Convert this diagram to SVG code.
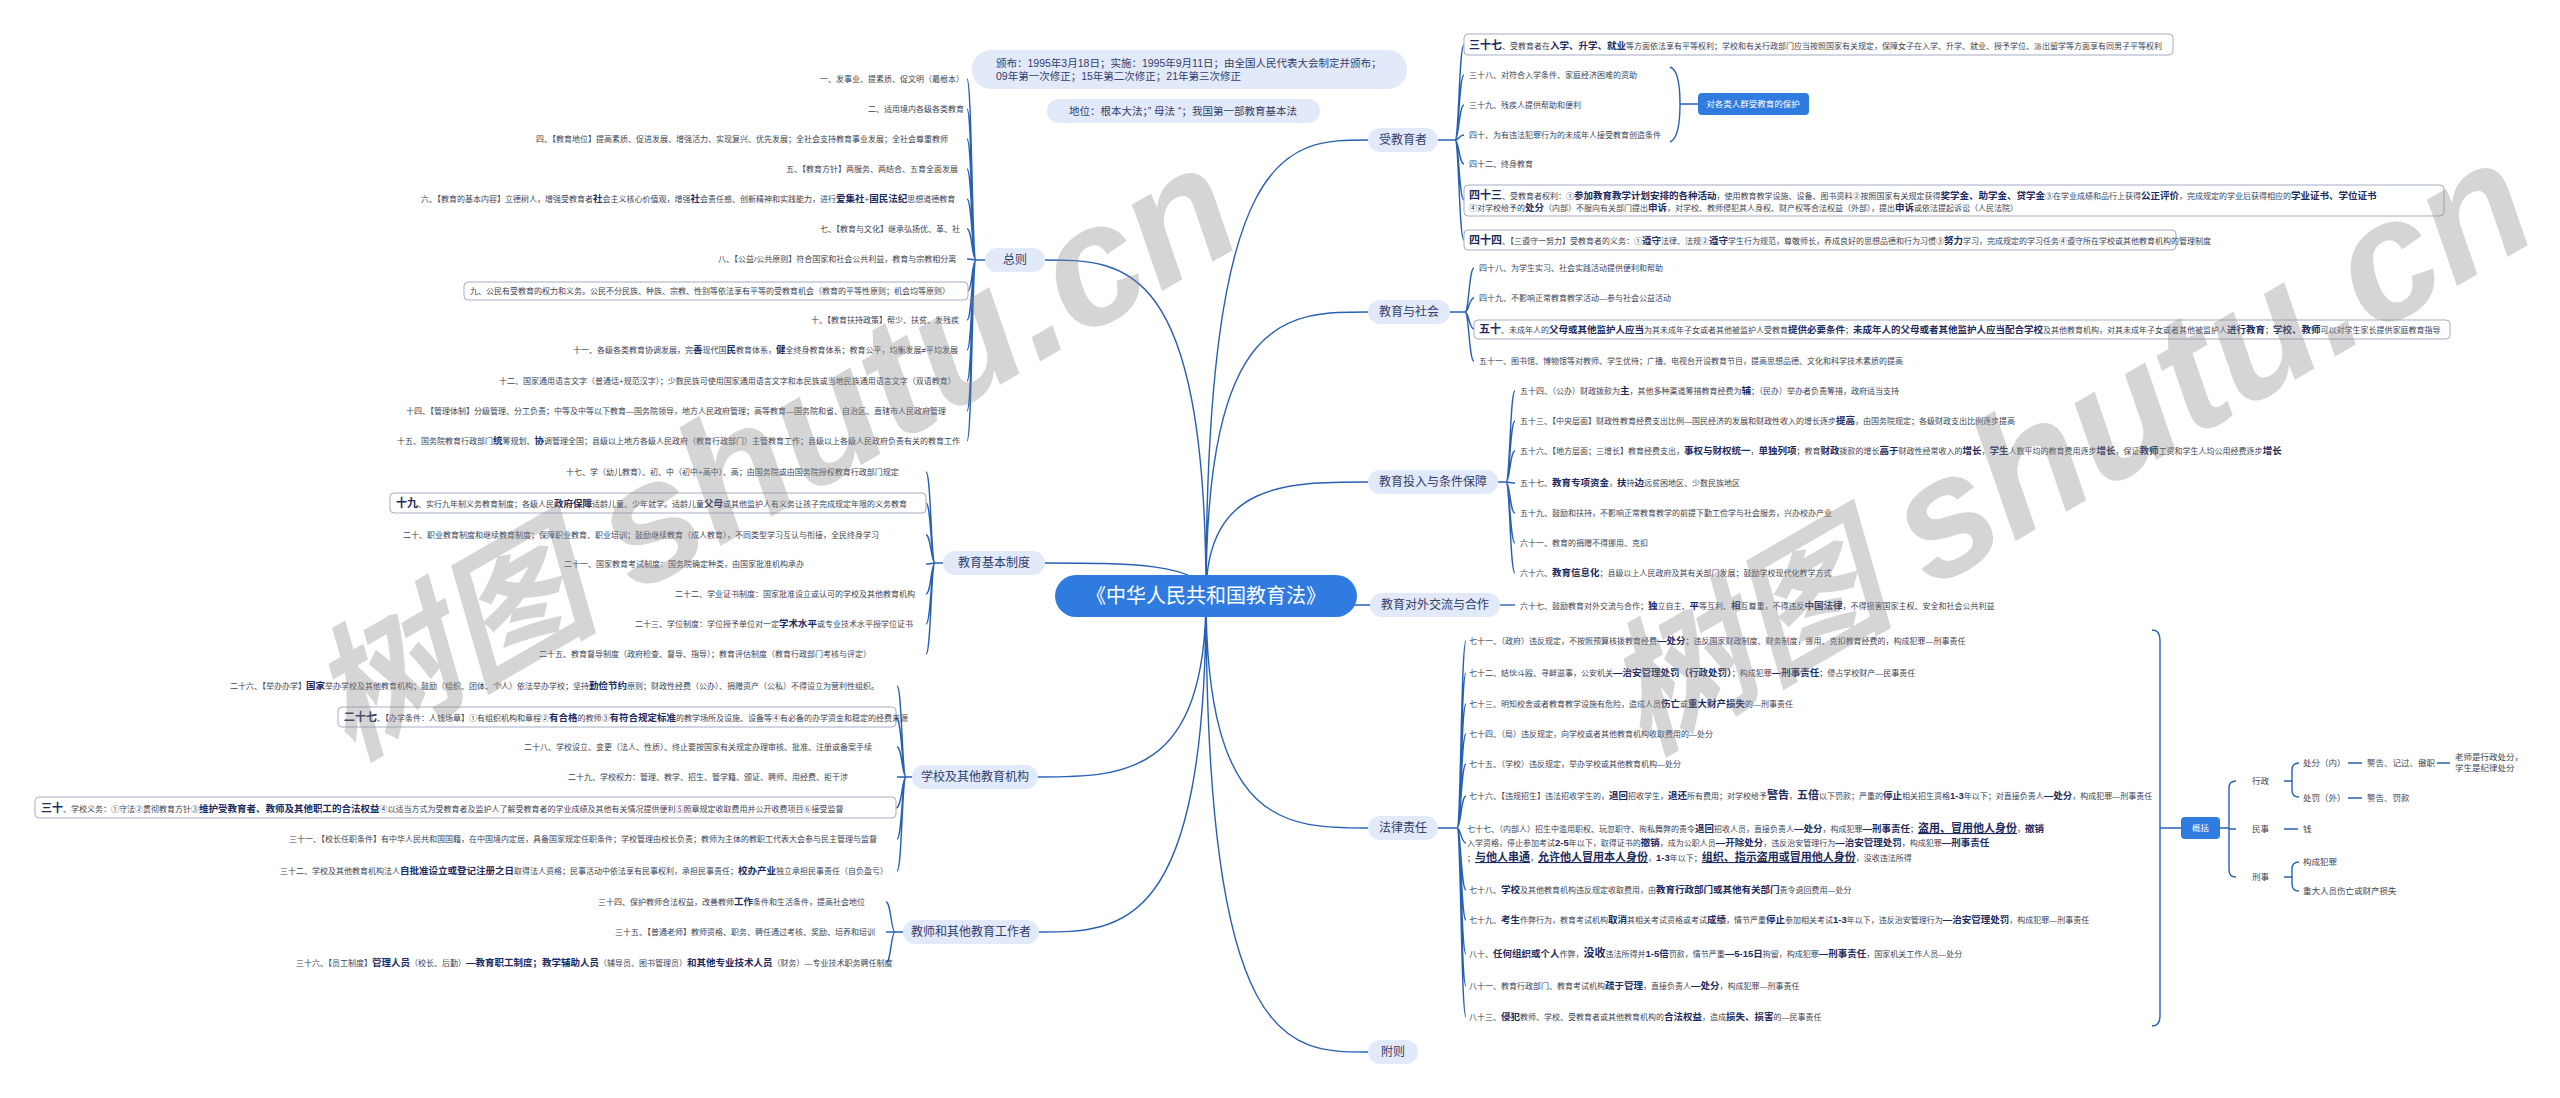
<svg xmlns="http://www.w3.org/2000/svg" width="2560" height="1098" viewBox="0 0 2560 1098">
<style>
text{font-family:"Liberation Sans","Noto Sans CJK SC",sans-serif;}
.t{font-size:8px;fill:#3d4354;}
.b{font-weight:700;font-size:9.5px;fill:#1e2b5e;}
.h{font-weight:700;font-size:11px;fill:#1e2b5e;}
.u{font-weight:700;font-size:11px;fill:#1e2b5e;text-decoration:underline;}
.s{font-size:8.5px;fill:#3d4354;}
.ln{fill:none;stroke:#2860b2;stroke-width:1.4;}
.pill{fill:#e2e9f8;}
.pt{font-size:12px;fill:#34406b;text-anchor:middle;}
.box{fill:#fff;stroke:#a3adc3;stroke-width:1;}
.blue{fill:#2f7be0;}
.wt{font-size:8.5px;fill:#fff;text-anchor:middle;}
.wm{font-size:145px;font-weight:700;font-style:italic;fill:#8c8c8c;opacity:0.36;}
.wl{font-size:170px;}
</style>
<rect width="2560" height="1098" fill="#fff"/>

<g id="connectors">
<path class="ln" d="M1206,596C1206,260 1125,260 1045,260 M1206,596C1206,563 1125,563 1045,563 M1206,596C1206,777 1122,777 1038,777 M1206,596C1206,932 1122,932 1039,932 M1206,596C1206,140 1287,140 1368,140 M1206,596C1206,312 1287,312 1368,312 M1206,596C1206,482 1287,482 1368,482 M1206,596C1206,605 1288,605 1370,605 M1206,596C1206,828 1287,828 1368,828 M1206,596C1206,1052 1287,1052 1368,1052"/>
<path class="ln" d="M985,260H976 M976,260C972,260 972,79 967,79 M976,260C972,260 972,109 967,109 M976,260C972,260 972,139 967,139 M976,260C972,260 972,169 967,169 M976,260C972,260 972,199 967,199 M976,260C972,260 972,229 967,229 M976,260C972,260 972,259 967,259 M976,260C972,260 972,291 968,291 M976,260C972,260 972,320 967,320 M976,260C972,260 972,350 967,350 M976,260C972,260 972,381 967,381 M976,260C972,260 972,411 967,411 M976,260C972,260 972,441 967,441"/>
<path class="ln" d="M943,563H935 M935,563C931,563 931,472 926,472 M935,563C931,563 931,503 926,503 M935,563C931,563 931,535 926,535 M935,563C931,563 931,564 926,564 M935,563C931,563 931,594 926,594 M935,563C931,563 931,624 926,624 M935,563C931,563 931,654 926,654"/>
<path class="ln" d="M912,777H906 M906,777C902,777 902,686 897,686 M906,777C902,777 902,717 896,717 M906,777C902,777 902,747 897,747 M906,777C902,777 902,777 897,777 M906,777C902,777 902,808 896,808 M906,777C902,777 902,839 897,839 M906,777C902,777 902,871 897,871"/>
<path class="ln" d="M903,932H895 M895,932C891,932 891,902 886,902 M895,932C891,932 891,932 886,932 M895,932C891,932 891,963 886,963"/>
<path class="ln" d="M1438,140H1455 M1455,140C1459,140 1459,45 1464,45 M1455,140C1459,140 1459,75 1464,75 M1455,140C1459,140 1459,105 1464,105 M1455,140C1459,140 1459,135 1464,135 M1455,140C1459,140 1459,164 1464,164 M1455,140C1459,140 1459,200 1464,200 M1455,140C1459,140 1459,240 1464,240"/>
<path class="ln" d="M1670,67Q1680,70 1680,104Q1680,138 1670,142 M1680,104H1698"/>
<path class="ln" d="M1450,312H1465 M1465,312C1469,312 1469,268 1474,268 M1465,312C1469,312 1469,298 1474,298 M1465,312C1469,312 1469,329 1474,329 M1465,312C1469,312 1469,361 1474,361"/>
<path class="ln" d="M1498,482H1506 M1506,482C1510,482 1510,391 1515,391 M1506,482C1510,482 1510,421 1515,421 M1506,482C1510,482 1510,451 1515,451 M1506,482C1510,482 1510,483 1515,483 M1506,482C1510,482 1510,513 1515,513 M1506,482C1510,482 1510,543 1515,543 M1506,482C1510,482 1510,573 1515,573"/>
<path class="ln" d="M1500,605H1515"/>
<path class="ln" d="M1438,828H1457 M1457,828C1461,828 1461,641 1466,641 M1457,828C1461,828 1461,673 1466,673 M1457,828C1461,828 1461,704 1466,704 M1457,828C1461,828 1461,734 1466,734 M1457,828C1461,828 1461,764 1466,764 M1457,828C1461,828 1461,796 1466,796 M1457,828C1461,828 1461,843 1466,843 M1457,828C1461,828 1461,890 1466,890 M1457,828C1461,828 1461,920 1466,920 M1457,828C1461,828 1461,954 1466,954 M1457,828C1461,828 1461,986 1466,986 M1457,828C1461,828 1461,1017 1466,1017"/>
<path class="ln" d="M2152,630Q2160,630 2160,640V1016Q2160,1026 2152,1026 M2160,828H2181"/>
<path class="ln" d="M2220,828H2229 M2236,781Q2229,781 2229,788V870Q2229,877 2236,877 M2229,829H2236 M2284,781H2292 M2299,763Q2292,763 2292,770V790Q2292,797 2299,797 M2348,763H2362 M2437,763H2450 M2348,798H2362 M2284,829H2298 M2284,877H2292 M2299,862Q2292,862 2292,869V884Q2292,891 2299,891"/>
</g>

<g id="root">
<rect x="1055" y="575" width="302" height="42" rx="21" class="blue"/>
<text x="1206" y="603" font-size="20" fill="#fff" text-anchor="middle">《中华人民共和国教育法》</text>
</g>

<g id="info1"><rect x="972" y="50" width="435" height="39" rx="19" class="pill"/>
<text x="996" y="67" font-size="10.5" fill="#34406b">颁布：1995年3月18日；实施：1995年9月11日；由全国人民代表大会制定并颁布；</text>
<text x="996" y="80" font-size="10.5" fill="#34406b">09年第一次修正；15年第二次修正；21年第三次修正</text></g>
<g id="info2"><rect x="1047" y="99" width="273" height="24" rx="12" class="pill"/>
<text x="1183" y="115" font-size="10.5" fill="#34406b" text-anchor="middle">地位：根本大法；” 母法 “；我国第一部教育基本法</text></g>

<g id="b-zongze"><rect x="985" y="248" width="60" height="24" rx="12" class="pill"/><text x="1015" y="264" class="pt">总则</text></g>
<g id="b-jiben"><rect x="943" y="551" width="102" height="24" rx="12" class="pill"/><text x="994" y="567" class="pt">教育基本制度</text></g>
<g id="b-xuexiao"><rect x="912" y="765" width="126" height="24" rx="12" class="pill"/><text x="975" y="781" class="pt">学校及其他教育机构</text></g>
<g id="b-jiaoshi"><rect x="903" y="920" width="136" height="24" rx="12" class="pill"/><text x="971" y="936" class="pt">教师和其他教育工作者</text></g>
<g id="b-shou"><rect x="1368" y="128" width="70" height="24" rx="12" class="pill"/><text x="1403" y="144" class="pt">受教育者</text></g>
<g id="b-shehui"><rect x="1368" y="300" width="82" height="24" rx="12" class="pill"/><text x="1409" y="316" class="pt">教育与社会</text></g>
<g id="b-touru"><rect x="1368" y="470" width="130" height="24" rx="12" class="pill"/><text x="1433" y="486" class="pt">教育投入与条件保障</text></g>
<g id="b-duiwai"><rect x="1370" y="593" width="130" height="24" rx="12" class="pill"/><text x="1435" y="609" class="pt">教育对外交流与合作</text></g>
<g id="b-falv"><rect x="1368" y="816" width="70" height="24" rx="12" class="pill"/><text x="1403" y="832" class="pt">法律责任</text></g>
<g id="b-fuze"><rect x="1368" y="1040" width="50" height="24" rx="12" class="pill"/><text x="1393" y="1056" class="pt">附则</text></g>

<g id="zongze-items" class="t">
<text x="820" y="82" class="t">一、发事业、提素质、促文明（最根本）</text>
<text x="868" y="112" class="t">二、适用境内各级各类教育</text>
<text x="536" y="142" class="t">四、【教育地位】提高素质、促进发展、增强活力、实现复兴、优先发展；全社会支持教育事业发展；全社会尊重教师</text>
<text x="786" y="172" class="t">五、【教育方针】两服务、两结合、五育全面发展</text>
<text x="421" y="202" class="t">六、【教育的基本内容】立德树人，增强受教育者<tspan class="b">社</tspan>会主义核心价值观，增强<tspan class="b">社</tspan>会责任感、创新精神和实践能力，进行<tspan class="b">爱集社</tspan>+<tspan class="b">国民法纪</tspan>思想道德教育</text>
<text x="820" y="232" class="t">七、【教育与文化】继承弘扬优、革、社</text>
<text x="718" y="262" class="t">八、【公益/公共原则】符合国家和社会公共利益，教育与宗教相分离</text>
<rect x="464" y="282" width="504" height="18" rx="4" class="box"/>
<text x="470" y="294" class="t">九、公民有受教育的权力和义务。公民不分民族、种族、宗教、性别等依法享有平等的受教育机会（教育的平等性原则；机会均等原则）</text>
<text x="811" y="323" class="t">十、【教育扶持政策】帮少、扶贫、发残疾</text>
<text x="573" y="353" class="t">十一、各级各类教育协调发展，完<tspan class="b">善</tspan>现代国<tspan class="b">民</tspan>教育体系，<tspan class="b">健</tspan>全终身教育体系；教育公平，均衡发展≠平均发展</text>
<text x="499" y="384" class="t">十二、国家通用语言文字（普通话+规范汉字）；少数民族可使用国家通用语言文字和本民族或当地民族通用语言文字（双语教育）</text>
<text x="406" y="414" class="t">十四、【管理体制】分级管理、分工负责；中等及中等以下教育—国务院领导，地方人民政府管理；高等教育—国务院和省、自治区、直辖市人民政府管理</text>
<text x="397" y="444" class="t">十五、国务院教育行政部门<tspan class="b">统</tspan>筹规划、<tspan class="b">协</tspan>调管理全国；县级以上地方各级人民政府（教育行政部门）主管教育工作；县级以上各级人民政府负责有关的教育工作</text>
</g>

<g id="jiben-items">
<text x="566" y="475" class="t">十七、学（幼儿教育）、初、中（初中+高中）、高；由国务院或由国务院授权教育行政部门规定</text>
<rect x="390" y="493" width="536" height="20" rx="4" class="box"/>
<text x="396" y="507" class="t"><tspan class="h">十九</tspan>、实行九年制义务教育制度；各级人民<tspan class="b">政府保障</tspan>适龄儿童、少年就学。适龄儿童<tspan class="b">父母</tspan>或其他监护人有义务让孩子完成规定年限的义务教育</text>
<text x="403" y="538" class="t">二十、职业教育制度和继续教育制度；保障职业教育、职业培训；鼓励继续教育（成人教育），不同类型学习互认与衔接，全民终身学习</text>
<text x="564" y="567" class="t">二十一、国家教育考试制度：国务院确定种类，由国家批准机构承办</text>
<text x="675" y="597" class="t">二十二、学业证书制度：国家批准设立或认可的学校及其他教育机构</text>
<text x="635" y="627" class="t">二十三、学位制度：学位授予单位对一定<tspan class="b">学术水平</tspan>或专业技术水平授学位证书</text>
<text x="539" y="657" class="t">二十五、教育督导制度（政府检查、督导、指导）；教育评估制度（教育行政部门考核与评定）</text>
</g>

<g id="xuexiao-items">
<text x="230" y="689" class="t">二十六、【举办办学】<tspan class="b">国家</tspan>举办学校及其他教育机构；鼓励（组织、团体、个人）依法举办学校；坚持<tspan class="b">勤俭节约</tspan>原则；财政性经费（公办）、捐赠资产（公私）不得设立为营利性组织。</text>
<rect x="338" y="707" width="558" height="20" rx="4" class="box"/>
<text x="344" y="721" class="t"><tspan class="h">二十七</tspan>、【办学条件：人钱场章】①有组织机构和章程②<tspan class="b">有合格</tspan>的教师③<tspan class="b">有符合规定标准</tspan>的教学场所及设施、设备等④有必备的办学资金和稳定的经费来源</text>
<text x="524" y="750" class="t">二十八、学校设立、变更（法人、性质）、终止要按国家有关规定办理审核、批准、注册或备案手续</text>
<text x="568" y="780" class="t">二十九、学校权力：管理、教学、招生、管学籍、颁证、聘师、用经费、拒干涉</text>
<rect x="35" y="797" width="861" height="21" rx="4" class="box"/>
<text x="41" y="812" class="t"><tspan class="h">三十</tspan>、学校义务：①守法②贯彻教育方针③<tspan class="b">维护受教育者、教师及其他职工的合法权益</tspan>④以适当方式为受教育者及监护人了解受教育者的学业成绩及其他有关情况提供便利⑤照章规定收取费用并公开收费项目⑥接受监督</text>
<text x="289" y="842" class="t">三十一、【校长任职条件】有中华人民共和国国籍，在中国境内定居，具备国家规定任职条件；学校管理由校长负责；教师为主体的教职工代表大会参与民主管理与监督</text>
<text x="280" y="874" class="t">三十二、学校及其他教育机构法人<tspan class="b">自批准设立或登记注册之日</tspan>取得法人资格；民事活动中依法享有民事权利，承担民事责任；<tspan class="b">校办产业</tspan>独立承担民事责任（自负盈亏）</text>
</g>

<g id="jiaoshi-items">
<text x="598" y="905" class="t">三十四、保护教师合法权益，改善教师<tspan class="b">工作</tspan>条件和生活条件，提高社会地位</text>
<text x="615" y="935" class="t">三十五、【普通老师】教师资格、职务、聘任通过考核、奖励、培养和培训</text>
<text x="296" y="966" class="t">三十六、【员工制度】<tspan class="b">管理人员</tspan>（校长、后勤）<tspan class="b">—教育职工制度；教学辅助人员</tspan>（辅导员、图书管理员）<tspan class="b">和其他专业技术人员</tspan>（财务）—专业技术职务聘任制度</text>
</g>

<g id="shou-items">
<rect x="1464" y="34" width="709" height="21" rx="4" class="box"/>
<text x="1469" y="49" class="t"><tspan class="h">三十七</tspan>、受教育者在<tspan class="b">入学、升学、就业</tspan>等方面依法享有平等权利；学校和有关行政部门应当按照国家有关规定，保障女子在入学、升学、就业、授予学位、派出留学等方面享有同男子平等权利</text>
<text x="1469" y="78" class="t">三十八、对符合入学条件、家庭经济困难的资助</text>
<text x="1469" y="108" class="t">三十九、残疾人提供帮助和便利</text>
<text x="1469" y="138" class="t">四十、为有违法犯罪行为的未成年人接受教育创造条件</text>
<text x="1469" y="167" class="t">四十二、终身教育</text>
<rect x="1464" y="185" width="980" height="31" rx="4" class="box"/>
<text x="1469" y="199" class="t"><tspan class="h">四十三</tspan>、受教育者权利：①<tspan class="b">参加教育教学计划安排的各种活动</tspan>，使用教育教学设施、设备、图书资料②按照国家有关规定获得<tspan class="b">奖学金、助学金、贷学金</tspan>③在学业成绩和品行上获得<tspan class="b">公正评价</tspan>，完成规定的学业后获得相应的<tspan class="b">学业证书、学位证书</tspan></text>
<text x="1469" y="211" class="t">④对学校给予的<tspan class="b">处分</tspan>（内部）不服向有关部门提出<tspan class="b">申诉</tspan>，对学校、教师侵犯其人身权、财产权等合法权益（外部），提出<tspan class="b">申诉</tspan>或依法提起诉讼（人民法院）</text>
<rect x="1464" y="230" width="712" height="20" rx="4" class="box"/>
<text x="1469" y="244" class="t"><tspan class="h">四十四</tspan>、【三遵守一努力】受教育者的义务：①<tspan class="b">遵守</tspan>法律、法规②<tspan class="b">遵守</tspan>学生行为规范，尊敬师长，养成良好的思想品德和行为习惯③<tspan class="b">努力</tspan>学习，完成规定的学习任务④遵守所在学校或其他教育机构的管理制度</text>
</g>
<g id="protect"><rect x="1698" y="93" width="111" height="22" rx="4" class="blue"/><text x="1753" y="107" class="wt">对各类人群受教育的保护</text></g>

<g id="shehui-items">
<text x="1479" y="271" class="t">四十八、为学生实习、社会实践活动提供便利和帮助</text>
<text x="1479" y="301" class="t">四十九、不影响正常教育教学活动—参与社会公益活动</text>
<rect x="1474" y="320" width="976" height="19" rx="4" class="box"/>
<text x="1479" y="333" class="t"><tspan class="h">五十</tspan>、未成年人的<tspan class="b">父母或其他监护人应当</tspan>为其未成年子女或者其他被监护人受教育<tspan class="b">提供必要条件</tspan>；<tspan class="b">未成年人的父母或者其他监护人应当配合学校</tspan>及其他教育机构，对其未成年子女或者其他被监护人<tspan class="b">进行教育</tspan>；<tspan class="b">学校、教师</tspan>可以对学生家长提供家庭教育指导</text>
<text x="1479" y="364" class="t">五十一、图书馆、博物馆等对教师、学生优待；广播、电视台开设教育节目，提高思想品德、文化和科学技术素质的提高</text>
</g>

<g id="touru-items">
<text x="1520" y="394" class="t">五十四、（公办）财政拨款为<tspan class="b">主</tspan>，其他多种渠道筹措教育经费为<tspan class="b">辅</tspan>；（民办）举办者负责筹措，政府适当支持</text>
<text x="1520" y="424" class="t">五十三、【中央层面】财政性教育经费支出比例—国民经济的发展和财政性收入的增长逐步<tspan class="b">提高</tspan>，由国务院规定；各级财政支出比例逐步提高</text>
<text x="1520" y="454" class="t">五十六、【地方层面；三增长】教育经费支出，<tspan class="b">事权与财权统一</tspan>，<tspan class="b">单独列项</tspan>；教育<tspan class="b">财政</tspan>拨款的增长<tspan class="b">高于</tspan>财政性经常收入的<tspan class="b">增长</tspan>，<tspan class="b">学生</tspan>人数平均的教育费用逐步<tspan class="b">增长</tspan>，保证<tspan class="b">教师</tspan>工资和学生人均公用经费逐步<tspan class="b">增长</tspan></text>
<text x="1520" y="486" class="t">五十七、<tspan class="b">教育专项资金</tspan>，<tspan class="b">扶</tspan>持<tspan class="b">边</tspan>远贫困地区、少数民族地区</text>
<text x="1520" y="516" class="t">五十九、鼓励和扶持，不影响正常教育教学的前提下勤工俭学与社会服务，兴办校办产业</text>
<text x="1520" y="546" class="t">六十一、教育的捐赠不得挪用、克扣</text>
<text x="1520" y="576" class="t">六十六、<tspan class="b">教育信息化</tspan>；县级以上人民政府及其有关部门发展；鼓励学校现代化教学方式</text>
</g>

<g id="duiwai-items">
<text x="1520" y="609" class="t">六十七、鼓励教育对外交流与合作；<tspan class="b">独</tspan>立自主、<tspan class="b">平</tspan>等互利、<tspan class="b">相</tspan>互尊重，不得违反<tspan class="b">中国法律</tspan>，不得损害国家主权、安全和社会公共利益</text>
</g>

<g id="falv-items">
<text x="1469" y="644" class="t">七十一、（政府）违反规定，不按照预算核拨教育经费<tspan class="b">—处分</tspan>；违反国家财政制度、财务制度，挪用、克扣教育经费的，构成犯罪—刑事责任</text>
<text x="1469" y="676" class="t">七十二、结伙斗殴、寻衅滋事，公安机关<tspan class="b">—治安管理处罚（行政处罚）</tspan>；构成犯罪<tspan class="b">—刑事责任</tspan>；侵占学校财产—民事责任</text>
<text x="1469" y="707" class="t">七十三、明知校舍或者教育教学设施有危险，造成人员<tspan class="b">伤亡</tspan>或<tspan class="b">重大财产损失</tspan>的—刑事责任</text>
<text x="1469" y="737" class="t">七十四、（局）违反规定，向学校或者其他教育机构收取费用的—处分</text>
<text x="1469" y="767" class="t">七十五、（学校）违反规定，举办学校或其他教育机构—处分</text>
<text x="1469" y="799" class="t">七十六、【违规招生】违法招收学生的，<tspan class="b">退回</tspan>招收学生，<tspan class="b">退还</tspan>所有费用；对学校给予<tspan class="h">警告</tspan>，<tspan class="h">五倍</tspan>以下罚款；严重的<tspan class="b">停止</tspan>相关招生资格<tspan class="b">1-3</tspan>年以下；对直接负责人<tspan class="b">—处分</tspan>，构成犯罪—刑事责任</text>
<text x="1467" y="832" class="t">七十七、（内部人）招生中滥用职权、玩忽职守、徇私舞弊的责令<tspan class="b">退回</tspan>招收人员，直接负责人<tspan class="b">—处分</tspan>，构成犯罪<tspan class="b">—刑事责任</tspan>；<tspan class="u">盗用、冒用他人身份</tspan>，<tspan class="b">撤销</tspan></text>
<text x="1467" y="846" class="t">入学资格，停止参加考试<tspan class="b">2-5</tspan>年以下，取得证书的<tspan class="b">撤销</tspan>，成为公职人员<tspan class="b">—开除处分</tspan>，违反治安管理行为<tspan class="b">—治安管理处罚</tspan>，构成犯罪<tspan class="b">—刑事责任</tspan></text>
<text x="1467" y="861" class="t">；<tspan class="u">与他人串通</tspan>，<tspan class="u">允许他人冒用本人身份</tspan>，<tspan class="b">1-3</tspan>年以下；<tspan class="u">组织、指示盗用或冒用他人身份</tspan>，没收违法所得</text>
<text x="1469" y="893" class="t">七十八、<tspan class="b">学校</tspan>及其他教育机构违反规定收取费用，由<tspan class="b">教育行政部门或其他有关部门</tspan>责令退回费用—处分</text>
<text x="1469" y="923" class="t">七十九、<tspan class="b">考生</tspan>作弊行为，教育考试机构<tspan class="b">取消</tspan>其相关考试资格或考试<tspan class="b">成绩</tspan>，情节严重<tspan class="b">停止</tspan>参加相关考试<tspan class="b">1-3</tspan>年以下，违反治安管理行为<tspan class="b">—治安管理处罚</tspan>，构成犯罪—刑事责任</text>
<text x="1469" y="957" class="t">八十、<tspan class="b">任何组织或个人</tspan>作弊，<tspan class="h">没收</tspan>违法所得并<tspan class="b">1-5倍</tspan>罚款，情节严重<tspan class="b">—5-15日</tspan>拘留，构成犯罪<tspan class="b">—刑事责任</tspan>，国家机关工作人员—处分</text>
<text x="1469" y="989" class="t">八十一、教育行政部门、教育考试机构<tspan class="b">疏于管理</tspan>，直接负责人<tspan class="b">—处分</tspan>，构成犯罪—刑事责任</text>
<text x="1469" y="1020" class="t">八十三、<tspan class="b">侵犯</tspan>教师、学校、受教育者或其他教育机构的<tspan class="b">合法权益</tspan>，造成<tspan class="b">损失、损害</tspan>的—民事责任</text>
</g>

<g id="gaikuo"><rect x="2181" y="817" width="39" height="22" rx="4" class="blue"/><text x="2200.5" y="831" class="wt">概括</text></g>
<g id="gaikuo-items">
<text x="2252" y="784" class="s">行政</text>
<text x="2252" y="832" class="s">民事</text>
<text x="2252" y="880" class="s">刑事</text>
<text x="2303" y="766" class="s">处分（内）</text>
<text x="2303" y="801" class="s">处罚（外）</text>
<text x="2367" y="766" class="s">警告、记过、撤职</text>
<text x="2455" y="760" class="s">老师是行政处分，</text>
<text x="2455" y="771" class="s">学生是纪律处分</text>
<text x="2367" y="801" class="s">警告、罚款</text>
<text x="2303" y="832" class="s">钱</text>
<text x="2303" y="865" class="s">构成犯罪</text>
<text x="2303" y="894" class="s">重大人员伤亡或财产损失</text>
</g>

<g id="watermark">
<text x="350" y="760" class="wm" transform="rotate(-30 350 760)">树图 <tspan class="wl">shutu.cn</tspan></text>
<text x="1645" y="755" class="wm" transform="rotate(-30 1645 755)">树图 <tspan class="wl">shutu.cn</tspan></text>
</g>
</svg>
